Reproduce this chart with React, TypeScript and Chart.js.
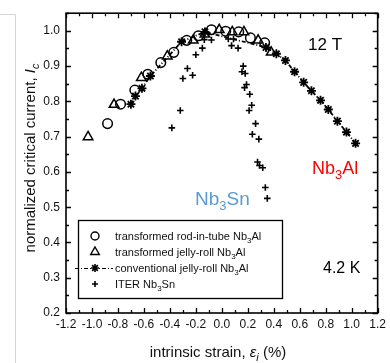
import React, { useEffect, useRef } from 'react';
import { Chart, registerables } from 'chart.js';
import { drawPoint } from 'chart.js/helpers';
Chart.register(...registerables);

// transformed rod-in-tube Nb3Al (circles)
const rodX = [-0.88, -0.78, -0.67, -0.57, -0.47, -0.37, -0.27, -0.18, -0.08, 0.03, 0.13, 0.22, 0.33];
const rodY = [0.737, 0.792, 0.832, 0.877, 0.910, 0.939, 0.973, 0.986, 1.003, 0.999, 0.997, 0.98, 0.966];

// transformed jelly-roll Nb3Al (triangles)
const jellyX = [-1.03, -0.83, -0.62, -0.42, -0.22, -0.13, -0.02, 0.08, 0.17, 0.28, 0.38];
const jellyY = [0.699, 0.791, 0.867, 0.928, 0.973, 0.99, 1.003, 0.997, 0.997, 0.973, 0.939];

// conventional jelly-roll Nb3Al (asterisks, dash-dot line)
const convX = [-0.70, -0.665, -0.615, -0.55, -0.31, -0.13, 0.34, 0.42, 0.49, 0.56, 0.63, 0.69, 0.76, 0.82, 0.89, 0.96, 1.03];
const convY = [0.792, 0.815, 0.837, 0.872, 0.969, 0.997, 0.953, 0.935, 0.916, 0.884, 0.854, 0.830, 0.803, 0.777, 0.744, 0.713, 0.681];

// ITER Nb3Sn (plus)
const iterX = [-0.385, -0.32, -0.30, -0.265, -0.225, -0.20, -0.15, -0.135, -0.08, 0.05, 0.075, 0.09, 0.125, 0.165, 0.155, 0.18, 0.19, 0.175, 0.215, 0.23, 0.21, 0.26, 0.235, 0.285, 0.275, 0.29, 0.315, 0.335, 0.35];
const iterY = [0.725, 0.774, 0.865, 0.893, 0.874, 0.932, 0.951, 0.975, 0.974, 0.977, 0.958, 0.977, 0.951, 0.90, 0.884, 0.879, 0.848, 0.839, 0.82, 0.789, 0.774, 0.737, 0.707, 0.693, 0.628, 0.618, 0.612, 0.556, 0.525];

const xTicks = [-1.2, -1.0, -0.8, -0.6, -0.4, -0.2, 0.0, 0.2, 0.4, 0.6, 0.8, 1.0, 1.2];
const yTicks = [0.2, 0.3, 0.4, 0.5, 0.6, 0.7, 0.8, 0.9, 1.0];

const FONT = '"Liberation Sans", Arial, sans-serif';

type Part = { t: string; italic?: boolean; sub?: boolean };

function partFont(p: Part, size: number) {
  const s = p.sub ? Math.round(size * 0.7) : size;
  return `${p.italic ? 'italic ' : ''}${s}px ${FONT}`;
}

function drawParts(ctx: CanvasRenderingContext2D, parts: Part[], x: number, y: number, size: number, align: 'left' | 'center', color: string) {
  ctx.save();
  ctx.fillStyle = color;
  ctx.textAlign = 'left';
  ctx.textBaseline = 'alphabetic';
  let total = 0;
  for (const p of parts) {
    ctx.font = partFont(p, size);
    total += ctx.measureText(p.t).width;
  }
  let cx = align === 'center' ? x - total / 2 : x;
  for (const p of parts) {
    ctx.font = partFont(p, size);
    ctx.fillText(p.t, cx, p.sub ? y + size * 0.28 : y);
    cx += ctx.measureText(p.t).width;
  }
  ctx.restore();
}

const decorPlugin = {
  id: 'decor',
  afterDraw(chart: any) {
    const ctx: CanvasRenderingContext2D = chart.ctx;
    const { left, right, top, bottom } = chart.chartArea;
    const xs = chart.scales.x;
    const ys = chart.scales.y;
    ctx.save();
    // faint page frame
    ctx.strokeStyle = '#d4d4d4';
    ctx.lineWidth = 1;
    ctx.beginPath();
    ctx.moveTo(0, 14.5);
    ctx.lineTo(15.5, 14.5);
    ctx.lineTo(15.5, 363);
    ctx.stroke();

    // plot frame
    ctx.strokeStyle = '#000';
    ctx.lineWidth = 1.6;
    ctx.strokeRect(left, top, right - left, bottom - top);

    // x tick marks (bottom and top)
    ctx.lineWidth = 1.3;
    for (let i = 0; i <= 24; i++) {
      const v = -1.2 + i * 0.1;
      const px = Math.round(xs.getPixelForValue(v)) + 0.5;
      const len = i % 2 === 0 ? 5 : 3;
      ctx.beginPath();
      ctx.moveTo(px, bottom);
      ctx.lineTo(px, bottom - len);
      ctx.moveTo(px, top);
      ctx.lineTo(px, top + len);
      ctx.stroke();
    }
    // y tick marks (left and right)
    for (let i = 0; i <= 17; i++) {
      const v = 0.2 + i * 0.05;
      const py = Math.round(ys.getPixelForValue(v)) + 0.5;
      const len = i % 2 === 0 ? 5 : 3;
      ctx.beginPath();
      ctx.moveTo(left, py);
      ctx.lineTo(left + len, py);
      ctx.moveTo(right, py);
      ctx.lineTo(right - len, py);
      ctx.stroke();
    }

    // legend box
    const bx = 78, by = 220, bw = 204, bh = 78;
    ctx.fillStyle = '#fff';
    ctx.fillRect(bx, by, bw, bh);
    ctx.strokeStyle = '#000';
    ctx.lineWidth = 1.3;
    ctx.strokeRect(bx + 0.5, by + 0.5, bw, bh);
    const rows = [236, 252, 268, 284];
    const symX = 95;
    const txtX = 115;
    ctx.strokeStyle = '#000';
    ctx.fillStyle = 'rgba(0,0,0,0)';
    ctx.lineWidth = 1.4;
    drawPoint(ctx, { pointStyle: 'circle', radius: 4, borderWidth: 1.4, rotation: 0 } as any, symX, rows[0]);
    drawPoint(ctx, { pointStyle: 'triangle', radius: 5, borderWidth: 1.4, rotation: 0 } as any, symX, rows[1]);
    ctx.save();
    ctx.setLineDash([4, 2, 1, 2]);
    ctx.lineWidth = 1;
    ctx.beginPath();
    ctx.moveTo(75, rows[2] + 0.5);
    ctx.lineTo(txtX - 2, rows[2] + 0.5);
    ctx.stroke();
    ctx.restore();
    ctx.lineWidth = 1.6;
    drawPoint(ctx, { pointStyle: 'star', radius: 4, borderWidth: 1.6, rotation: 0 } as any, symX, rows[2]);
    drawPoint(ctx, { pointStyle: 'cross', radius: 3, borderWidth: 1.6, rotation: 0 } as any, symX, rows[3]);
    const ls = 11;
    drawParts(ctx, [{ t: 'transformed rod-in-tube Nb' }, { t: '3', sub: true }, { t: 'Al' }], txtX, rows[0] + 4, ls, 'left', '#111');
    drawParts(ctx, [{ t: 'transformed jelly-roll Nb' }, { t: '3', sub: true }, { t: 'Al' }], txtX, rows[1] + 4, ls, 'left', '#111');
    drawParts(ctx, [{ t: 'conventional jelly-roll Nb' }, { t: '3', sub: true }, { t: 'Al' }], txtX, rows[2] + 4, ls, 'left', '#111');
    drawParts(ctx, [{ t: 'ITER Nb' }, { t: '3', sub: true }, { t: 'Sn' }], txtX, rows[3] + 4, ls, 'left', '#111');

    // annotations
    drawParts(ctx, [{ t: '12 T' }], 308, 50, 17, 'left', '#000');
    drawParts(ctx, [{ t: '4.2 K' }], 323, 273, 16, 'left', '#000');
    drawParts(ctx, [{ t: 'Nb' }, { t: '3', sub: true }, { t: 'Al' }], 312, 174, 18, 'left', '#ff0000');
    drawParts(ctx, [{ t: 'Nb' }, { t: '3', sub: true }, { t: 'Sn' }], 195, 205, 19, 'left', '#5b9bd5');

    // x axis title
    drawParts(ctx, [{ t: 'intrinsic strain, ' }, { t: 'ε', italic: true }, { t: 'i', italic: true, sub: true }, { t: ' (%)' }], 218, 357, 15, 'center', '#111');

    // y axis title
    ctx.save();
    ctx.translate(30, 158);
    ctx.rotate(-Math.PI / 2);
    drawParts(ctx, [{ t: 'normalized critical current, ' }, { t: 'I', italic: true }, { t: 'c', italic: true, sub: true }], 0, 5, 15, 'center', '#111');
    ctx.restore();
    ctx.restore();
  },
};

function pts(xs: number[], ys: number[]) {
  return xs.map((x, i) => ({ x, y: ys[i] }));
}

export default function App() {
  const ref = useRef<HTMLCanvasElement>(null);
  useEffect(() => {
    if (!ref.current) return;
    const chart = new Chart(ref.current, {
      type: 'scatter',
      data: {
        datasets: [
          {
            label: 'transformed rod-in-tube Nb3Al',
            data: pts(rodX, rodY),
            pointStyle: 'circle',
            pointRadius: 4.8,
            borderColor: '#000',
            backgroundColor: 'rgba(0,0,0,0)',
            borderWidth: 1.5,
          },
          {
            label: 'transformed jelly-roll Nb3Al',
            data: pts(jellyX, jellyY),
            pointStyle: 'triangle',
            pointRadius: 5.5,
            borderColor: '#000',
            backgroundColor: 'rgba(0,0,0,0)',
            borderWidth: 1.5,
          },
          {
            label: 'conventional jelly-roll Nb3Al',
            data: pts(convX, convY),
            pointStyle: 'star',
            pointRadius: 4.5,
            borderColor: '#000',
            backgroundColor: '#000',
            borderWidth: 1.8,
            showLine: true,
            borderDash: [4, 2, 1, 2],
          } as any,
          {
            label: 'ITER Nb3Sn',
            data: pts(iterX, iterY),
            pointStyle: 'cross',
            pointRadius: 3.3,
            borderColor: '#000',
            backgroundColor: '#000',
            borderWidth: 1.6,
          },
        ],
      },
      options: {
        animation: false,
        responsive: false,
        devicePixelRatio: 1,
        layout: { padding: { top: 7, right: 10, left: 0, bottom: 0 } },
        plugins: { legend: { display: false }, tooltip: { enabled: false } },
        scales: {
          x: {
            type: 'linear',
            min: -1.2,
            max: 1.2,
            grid: { display: false, drawTicks: false },
            border: { display: false },
            afterBuildTicks: (s: any) => { s.ticks = xTicks.map((v) => ({ value: v })); },
            afterFit: (s: any) => { s.height = 50; },
            ticks: {
              padding: 4,
              color: '#111',
              font: { family: FONT, size: 12 },
              maxRotation: 0,
              autoSkip: false,
              callback: (v: any) => Number(v).toFixed(1),
            },
          },
          y: {
            type: 'linear',
            min: 0.2,
            max: 1.05,
            grid: { display: false, drawTicks: false },
            border: { display: false },
            afterBuildTicks: (s: any) => { s.ticks = yTicks.map((v) => ({ value: v })); },
            afterFit: (s: any) => { s.width = 66; },
            ticks: {
              padding: 6,
              color: '#111',
              font: { family: FONT, size: 12 },
              autoSkip: false,
              callback: (v: any) => Number(v).toFixed(1),
            },
          },
        },
      },
      plugins: [decorPlugin],
    });
    return () => chart.destroy();
  }, []);
  return (
    <div style={{ position: 'fixed', left: 0, top: 0, width: 390, height: 363, background: '#fff' }}>
      <canvas ref={ref} width={390} height={363} />
    </div>
  );
}
